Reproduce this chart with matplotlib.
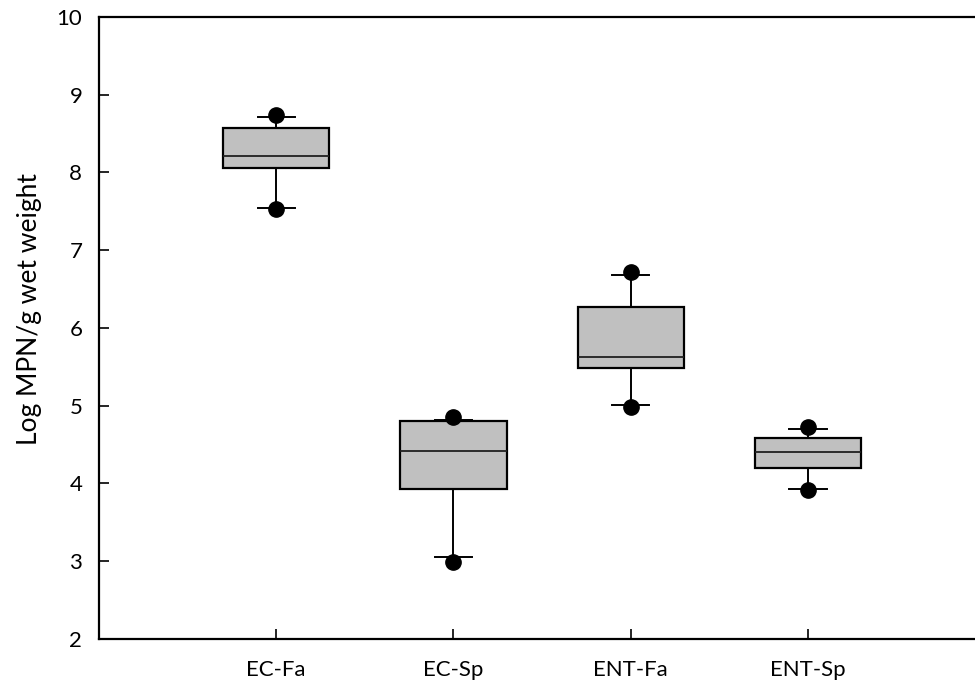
import matplotlib
matplotlib.use('Agg')
import matplotlib.pyplot as plt

plt.rcParams['font.family'] = ['Lato', 'DejaVu Sans']

# values
labels = ['EC-Fa', 'EC-Sp', 'ENT-Fa', 'ENT-Sp']
q1 = [8.06, 3.93, 5.48, 4.20]
med = [8.21, 4.42, 5.63, 4.40]
q3 = [8.57, 4.80, 6.27, 4.59]
whis_lo = [7.54, 3.05, 5.01, 3.93]
whis_hi = [8.71, 4.82, 6.68, 4.70]
dot_lo = [7.53, 2.99, 4.98, 3.92]
dot_hi = [8.74, 4.86, 6.72, 4.72]

stats = []
for i, lab in enumerate(labels):
    stats.append({'label': lab, 'q1': q1[i], 'med': med[i], 'q3': q3[i],
                  'whislo': whis_lo[i], 'whishi': whis_hi[i],
                  'fliers': [dot_lo[i], dot_hi[i]]})

fig = plt.figure(figsize=(9.75, 6.89), dpi=100)
ax = fig.add_axes([0.1015, 0.0726, 0.909, 0.9028])

ax.bxp(stats, positions=[1, 2, 3, 4], widths=0.6, capwidths=0.21,
       patch_artist=True, showfliers=True,
       boxprops=dict(facecolor='#c0c0c0', edgecolor='black', linewidth=1.6),
       medianprops=dict(color='#202020', linewidth=1.3),
       whiskerprops=dict(color='black', linewidth=1.4),
       capprops=dict(color='black', linewidth=1.4),
       flierprops=dict(marker='o', markerfacecolor='black',
                       markeredgecolor='black', markersize=11))

ax.set_xlim(0, 5)
ax.set_ylim(2, 10)
ax.set_yticks(range(2, 11))
ax.set_xticks([1, 2, 3, 4])
ax.set_xticklabels(labels)
ax.set_ylabel('Log MPN/g wet weight', fontsize=19)
ax.yaxis.set_label_coords(-0.064, 0.53)

ax.tick_params(axis='both', direction='in', length=7, width=1.2, labelsize=16)
ax.tick_params(axis='y', pad=12)
ax.tick_params(axis='x', pad=15)
for s in ax.spines.values():
    s.set_linewidth(1.6)

fig.savefig('out.png', dpi=100)
